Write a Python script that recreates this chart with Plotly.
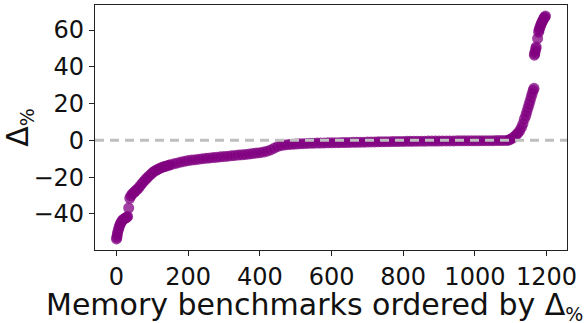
import plotly.graph_objects as go

# Benchmark index (ordered) and Δ% values, by segment
idx_a = [0, 1, 2, 3, 5, 7, 9, 11, 14, 17, 20, 23, 26, 29, 31, 34]
dlt_a = [-53.6, -52.8, -51.5, -50.3, -48.9, -47.4, -46.2, -45.3, -44.2, -43.4,
         -42.9, -42.5, -42.2, -41.8, -41.4, -36.8]

idx_b = [37, 40, 44, 48, 52, 56, 60, 65, 70, 75, 80, 85, 90, 95, 100, 105, 110,
         115, 120, 125, 130, 135, 140, 145, 150, 160, 170, 180, 190]
dlt_b = [-31.5, -30.2, -29.2, -28.4, -27.7, -27.0, -26.2, -25.0, -23.8, -22.6,
         -21.5, -20.5, -19.5, -18.6, -17.7, -16.9, -16.3, -15.8, -15.3, -14.9,
         -14.5, -14.2, -13.9, -13.6, -13.3, -12.8, -12.3, -11.8, -11.4]

idx_c = [200, 210, 220, 230, 240, 250, 260, 270, 280, 290, 300, 310, 320, 330,
         340, 350, 360, 370, 380, 390, 400, 410, 420, 430, 440, 450, 460, 470,
         480, 490, 500, 510, 520, 530]
dlt_c = [-11.0, -10.75, -10.5, -10.25, -10.0, -9.8, -9.6, -9.4, -9.2, -9.0, -8.8,
         -8.6, -8.4, -8.2, -8.0, -7.85, -7.7, -7.45, -7.2, -6.95, -6.7, -6.4,
         -5.9, -5.2, -4.3, -3.3, -2.8, -2.5, -2.3, -2.15, -2.0, -1.9, -1.8, -1.7]

idx_d = [540, 550, 560, 570, 580, 590, 600, 610, 620, 630, 640, 650, 660, 670,
         680, 690, 700, 710, 720, 730, 740, 750, 760, 770, 780, 790, 800, 810,
         820, 830, 840, 850, 860, 870, 880, 890, 900, 910, 920, 930, 940, 950,
         960, 970, 980, 990, 1000, 1010, 1020, 1030, 1040, 1050, 1060, 1070,
         1080, 1090]
dlt_d = [-1.60, -1.55, -1.50, -1.46, -1.42, -1.38, -1.34, -1.30, -1.26, -1.22,
         -1.18, -1.14, -1.10, -1.06, -1.02, -0.98, -0.94, -0.90, -0.86, -0.82,
         -0.78, -0.75, -0.72, -0.69, -0.66, -0.63, -0.60, -0.57, -0.54, -0.51,
         -0.49, -0.47, -0.45, -0.43, -0.41, -0.39, -0.37, -0.35, -0.33, -0.31,
         -0.30, -0.29, -0.28, -0.27, -0.26, -0.25, -0.24, -0.23, -0.22, -0.21,
         -0.20, -0.18, -0.16, -0.13, -0.10, -0.05]

idx_e = [1095, 1100, 1105, 1110, 1115, 1120, 1125, 1130, 1134, 1138, 1142, 1145,
         1148, 1151, 1154, 1157, 1160, 1163, 1165]
dlt_e = [0.2, 0.6, 1.2, 2.0, 2.9, 3.9, 5.2, 7.0, 9.0, 11.5, 13.5, 15.5, 17.5,
         19.5, 21.5, 23.5, 25.5, 27.3, 28.3]

idx_f = [1166, 1167, 1168, 1170, 1171, 1175, 1178, 1179, 1181, 1183, 1185, 1187,
         1189, 1191, 1193, 1195, 1197]
dlt_f = [46.3, 47.2, 48.3, 49.8, 50.8, 55.4, 58.8, 60.0, 61.2, 62.3, 63.3, 64.2,
         65.0, 65.8, 66.5, 67.0, 67.6]

x_ticks = [0, 200, 400, 600, 800, 1000, 1200]
y_ticks = [-40, -20, 0, 20, 40, 60]

x_title = "Memory benchmarks ordered by Δ<sub><span style='font-size:19px'>%</span></sub>"
y_title = "Δ<sub><span style='font-size:19px'>%</span></sub>"

xs = idx_a + idx_b + idx_c + idx_d + idx_e + idx_f
ys = dlt_a + dlt_b + dlt_c + dlt_d + dlt_e + dlt_f

FONT = "DejaVu Sans"

fig = go.Figure()
fig.add_trace(go.Scatter(
    x=xs, y=ys, mode="markers",
    marker=dict(color="#800080", size=11, opacity=0.75, line=dict(width=0)),
    showlegend=False, hoverinfo="skip",
))

fig.add_shape(type="line", xref="paper", yref="y", x0=0, x1=1, y0=0, y1=0,
              line=dict(color="#bfbfbf", width=3, dash="9px,6px"), layer="above")

axis_common = dict(
    showline=True, mirror=True, linecolor="#222222", linewidth=1.3,
    ticks="outside", ticklen=5, tickwidth=1.2, tickcolor="#222222",
    showgrid=False, zeroline=False,
    tickfont=dict(family=FONT, size=24, color="#111111"),
)

fig.add_annotation(
    text=x_title, xref="paper", yref="paper",
    x=(314 - 95) / 472, y=(250 - 285) / 245, xanchor="center", yanchor="top",
    showarrow=False, font=dict(family=FONT, size=30, color="#111111"),
)

fig.update_layout(
    width=588, height=323,
    margin=dict(l=95, r=21, t=5, b=73),
    paper_bgcolor="white", plot_bgcolor="white",
    xaxis=dict(range=[-60, 1257], tickvals=x_ticks, **axis_common),
    yaxis=dict(range=[-59.65, 73.6], tickvals=y_ticks,
               title=dict(text=y_title,
                          font=dict(family=FONT, size=30, color="#111111"),
                          standoff=0),
               **axis_common),
)

fig.write_html("out.html")
